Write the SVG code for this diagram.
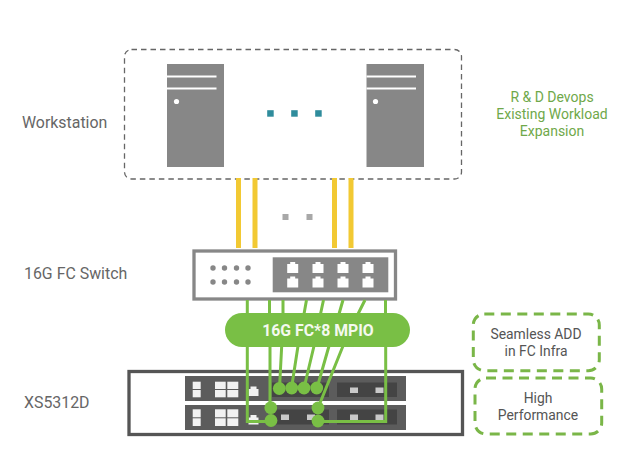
<svg xmlns="http://www.w3.org/2000/svg" width="620" height="466" viewBox="0 0 620 466">
<style>
text{font-family:Roboto,"Liberation Sans",sans-serif}
.lab{font-size:15.900px;fill:#666}
.note{font-size:13.900px;fill:#555;text-anchor:middle}
.grn{font-size:14px;fill:#6fa84a;text-anchor:middle}
.srv{fill:#878787}
.wl{stroke:#fff;stroke-width:2.200;fill:none}
.yl{stroke:#f2c933;stroke-width:5;fill:none}
.gl{stroke:#79bf45;stroke-width:3;fill:none}
.gc{fill:#79bf45}
.dash{fill:#fff;stroke:#7ab648;stroke-width:3;stroke-dasharray:10 6.500}
.mod{fill:#5c5c5c}
.inn{fill:#444}
.wb{fill:#f2f2f2}
.sq{fill:#c9c9c9}
.dot{fill:#878787}
.pt{fill:#fff}
</style>
<defs>
<path id="port" d="M-5.500-5h3v-2h5v2h3v9h-11z"/>
<path id="sport" d="M-5-2h2v-2.500h6v2.500h2v7h-10z"/>
</defs>
<g id="workstation-label"><text class="lab" x="22" y="128">Workstation</text></g>
<g id="workstation">
<rect x="124.500" y="49.500" width="337" height="129.500" rx="7" fill="#fff" stroke="#666" stroke-width="1.300" stroke-dasharray="5.500 4"/>
<rect class="srv" x="167" y="64" width="57" height="103"/>
<path class="wl" d="M167 76.500h49.500M167 88.500h49.500"/>
<circle cx="176.500" cy="101.500" r="2.600" fill="#fff"/>
<rect class="srv" x="366.500" y="64" width="57.500" height="103"/>
<path class="wl" d="M366.500 76.500h49.500M366.500 88.500h49.500"/>
<circle cx="375.500" cy="101.500" r="2.600" fill="#fff"/>
<g fill="#2f8c9c"><rect x="267.200" y="110.200" width="6.500" height="6.500"/><rect x="291.200" y="110.200" width="6.500" height="6.500"/><rect x="315.200" y="110.200" width="6.500" height="6.500"/></g>
</g>
<g id="links-dots" fill="#a8a8a8"><rect x="282.500" y="214" width="6" height="6"/><rect x="306.500" y="214" width="6" height="6"/></g>
<g id="switch-label"><text class="lab" x="24" y="279">16G FC Switch</text></g>
<g id="switch">
<rect x="194" y="251" width="201.500" height="48" fill="#fff" stroke="#878787" stroke-width="3.300"/>
<rect class="srv" x="272.700" y="257.300" width="115.600" height="35"/>
<g class="dot"><circle cx="213" cy="268" r="2.700"/><circle cx="224.500" cy="268" r="2.700"/><circle cx="236.500" cy="268" r="2.700"/><circle cx="248" cy="268" r="2.700"/><circle cx="213" cy="282" r="2.700"/><circle cx="224.500" cy="282" r="2.700"/><circle cx="236.500" cy="282" r="2.700"/><circle cx="248" cy="282" r="2.700"/></g>
<g class="pt"><use href="#port" x="292.700" y="269"/><use href="#port" x="318" y="269"/><use href="#port" x="343" y="269"/><use href="#port" x="368" y="269"/><use href="#port" x="292.700" y="283.500"/><use href="#port" x="318" y="283.500"/><use href="#port" x="343" y="283.500"/><use href="#port" x="368" y="283.500"/></g>
</g>
<g id="xs-label"><text class="lab" x="24" y="408">XS5312D</text></g>
<g id="xs5312d">
<rect x="129" y="371.500" width="333.500" height="63" fill="#fff" stroke="#555" stroke-width="3.300"/>
<rect class="mod" x="185" y="376" width="221" height="25"/>
<rect class="mod" x="185" y="405" width="221" height="25"/>
<rect class="inn" x="272" y="382.500" width="57" height="14.500"/>
<rect class="inn" x="272" y="409.500" width="57" height="15"/>
<rect class="inn" x="337" y="382.500" width="60" height="14.500"/>
<rect class="inn" x="337" y="409.500" width="60" height="15"/>
<g class="wb">
<rect x="192.700" y="381.700" width="8" height="7.300"/><rect x="192.700" y="390" width="8" height="7.300"/>
<rect x="215" y="381.700" width="10.700" height="7.300"/><rect x="215" y="390" width="10.700" height="7.300"/>
<rect x="227.300" y="381.700" width="11" height="7.300"/><rect x="227.300" y="390" width="11" height="7.300"/>
<rect x="192.700" y="409.300" width="8" height="8"/><rect x="192.700" y="418.300" width="8" height="7.700"/>
<rect x="215" y="409.300" width="10.700" height="8"/><rect x="215" y="418.300" width="10.700" height="7.700"/>
<rect x="227.300" y="409.300" width="11" height="8"/><rect x="227.300" y="418.300" width="11" height="7.700"/>
<use href="#sport" x="253.500" y="391"/><use href="#sport" x="253.500" y="419.500"/>
</g>
<g class="sq">
<rect x="350" y="387.500" width="8" height="5.500"/><rect x="375.500" y="387.500" width="8" height="5.500"/>
<rect x="350" y="414.500" width="8" height="5.500"/><rect x="375.500" y="414.500" width="8" height="5.500"/>
<rect x="281" y="414.500" width="8" height="5.500"/><rect x="307" y="414.500" width="8" height="5.500"/>
</g>
</g>
<g id="connectors">
<path class="yl" d="M238.500 178V248M255 178V248M334.500 178V248M351 178V248"/>
<path class="gl" d="M247.300 300V314M269.500 300V314M283 300V314M306.500 300L304 314M323.500 300L320.500 314M343 300L339 314M365 300L358 314M385.500 300V314"/>
<path class="gl" d="M247.300 346V421.500H271M270 346V407.500M281.700 346L279.500 388M298 346L291.500 388M314 346L304 388M329 346L317 388M343 346L318 408M385.700 346V421.500H318"/>
<g class="gc"><circle cx="279.300" cy="388.500" r="6.400"/><circle cx="291.700" cy="388" r="6.400"/><circle cx="304" cy="388" r="6.400"/><circle cx="316.700" cy="388" r="6.400"/><circle cx="270.800" cy="407.700" r="6.400"/><circle cx="271" cy="420.500" r="6.400"/><circle cx="318" cy="408" r="6.400"/><circle cx="318" cy="421" r="6.400"/></g>
</g>
<g id="mpio">
<rect x="225" y="313" width="185" height="34" rx="17" fill="#79bf45"/>
<text x="318" y="336" font-size="15.800" font-weight="700" text-anchor="middle" style="fill:#f4f9ef">16G FC*8 MPIO</text>
</g>
<g id="rd-note"><text class="grn" x="552" y="102">R &amp; D Devops</text><text class="grn" x="552" y="119">Existing Workload</text><text class="grn" x="552" y="136">Expansion</text></g>
<g id="seamless"><rect class="dash" x="473.300" y="314" width="126" height="56.700" rx="11"/><text class="note" x="536" y="339">Seamless ADD</text><text class="note" x="536" y="356">in FC Infra</text></g>
<g id="performance"><rect class="dash" x="475" y="378" width="126.700" height="56" rx="11"/><text class="note" x="538" y="403">High</text><text class="note" x="538" y="420">Performance</text></g>
</svg>
